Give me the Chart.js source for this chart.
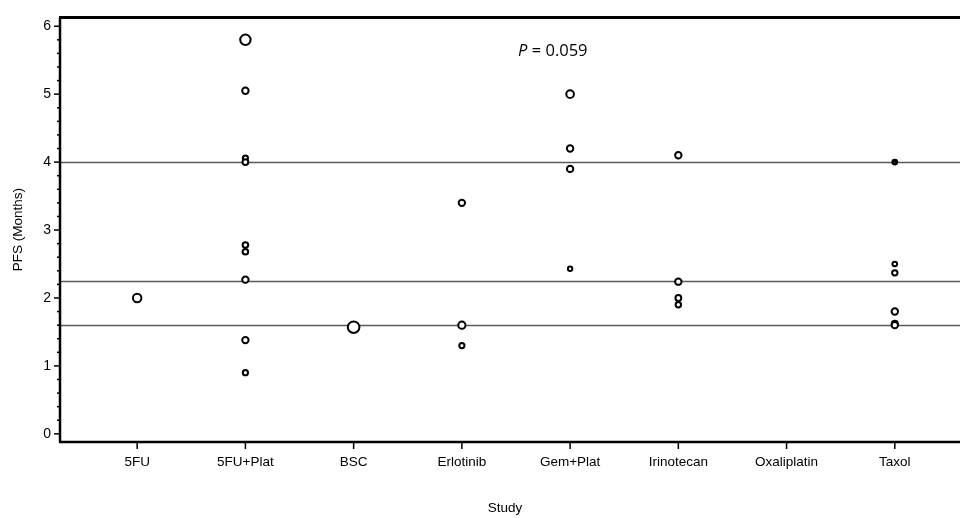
<!DOCTYPE html>
<html>
<head>
<meta charset="utf-8">
<script src="https://cdn.jsdelivr.net/npm/chart.js@4/dist/chart.umd.min.js"></script>
<style>
  html, body { margin: 0; padding: 0; background: #ffffff; }
  #wrap { width: 960px; height: 518px; position: relative; }
</style>
</head>
<body>
<div id="wrap"><canvas id="c" width="960" height="518"></canvas></div>
<script>
// ---- data ----
const categories = ['5FU', '5FU+Plat', 'BSC', 'Erlotinib', 'Gem+Plat', 'Irinotecan', 'Oxaliplatin', 'Taxol'];
const studyArm  = [0,   1,    1,    1,    1,    1,    1,    1,    1,    1,    2,    3,   3,   3,   4,   4,   4,   4,    5,   5,    5,   5,   7,   7,   7,    7,   7,    7];
const pfsMonths = [2.0, 5.8,  5.05, 4.06, 4.0,  2.78, 2.68, 2.27, 1.38, 0.9,  1.57, 3.4, 1.6, 1.3, 5.0, 4.2, 3.9, 2.43, 4.1, 2.24, 2.0, 1.9, 4.0, 2.5, 2.37, 1.8, 1.62, 1.6];
const studyWeight = [4.2, 5.2, 3.2, 2.6, 2.9, 2.8, 2.8, 3.2, 3.2, 2.6, 5.8, 3.2, 3.6, 2.6, 3.8, 3.2, 3.2, 2.2, 3.2, 3.2, 2.9, 2.7, 1.9, 2.3, 2.7, 3.2, 3.0, 3.2];
const refLines = [4.0, 2.25, 1.6];
const yTicks = [0, 1, 2, 3, 4, 5, 6];
const pLabel = '0.059';

const points = pfsMonths.map((v, i) => ({ x: studyArm[i], y: v, w: studyWeight[i] }));

const framePlugin = {
  id: 'frame',
  beforeDatasetsDraw(chart) {
    const { ctx, chartArea, scales } = chart;
    ctx.save();
    ctx.strokeStyle = '#5a5a5a';
    ctx.lineWidth = 1.5;
    refLines.forEach(v => {
      const y = Math.round(scales.y.getPixelForValue(v)) + 0.5;
      ctx.beginPath();
      ctx.moveTo(chartArea.left, y);
      ctx.lineTo(chart.width, y);
      ctx.stroke();
    });
    ctx.restore();
  },
  afterDraw(chart) {
    const { ctx, chartArea, scales } = chart;
    const L = chartArea.left, T = chartArea.top, B = chartArea.bottom;
    ctx.save();
    ctx.strokeStyle = '#000000';
    // frame
    ctx.lineWidth = 3;
    ctx.beginPath(); ctx.moveTo(L - 1, T); ctx.lineTo(chart.width, T); ctx.stroke();
    ctx.lineWidth = 2.5;
    ctx.beginPath(); ctx.moveTo(L, T); ctx.lineTo(L, B); ctx.stroke();
    ctx.beginPath(); ctx.moveTo(L - 1, B); ctx.lineTo(chart.width, B); ctx.stroke();
    // y ticks (major + minor)
    ctx.lineWidth = 1.5;
    for (let k = 0; k <= 30; k++) {
      const v = k * 0.2;
      const y = scales.y.getPixelForValue(v);
      const len = (k % 5 === 0) ? 6 : 3;
      ctx.beginPath(); ctx.moveTo(L - len, y); ctx.lineTo(L, y); ctx.stroke();
    }
    // x ticks
    categories.forEach((c, i) => {
      const x = scales.x.getPixelForValue(i);
      ctx.beginPath(); ctx.moveTo(x, B); ctx.lineTo(x, B + 7); ctx.stroke();
    });
    // P value annotation
    ctx.fillStyle = '#000000';
    ctx.textBaseline = 'middle';
    ctx.textAlign = 'left';
    const px = scales.x.getPixelForValue(4) - 52;
    const py = scales.y.getPixelForValue(5.63);
    ctx.font = 'italic 16.5px "Open Sans"';
    ctx.fillText('P', px, py);
    const wP = ctx.measureText('P').width;
    ctx.font = '16.5px "Open Sans"';
    ctx.fillText(' = ' + pLabel, px + wP, py);
    ctx.restore();
  }
};

new Chart(document.getElementById('c'), {
  type: 'scatter',
  data: {
    datasets: [{
      data: points,
      showLine: false,
      borderColor: '#000000',
      backgroundColor: '#ffffff',
      borderWidth: ctx => (ctx.raw && ctx.raw.w < 2) ? 3 : 2,
      pointRadius: ctx => ctx.raw ? ctx.raw.w : 3,
      pointHoverRadius: ctx => ctx.raw ? ctx.raw.w : 3,
      clip: false
    }]
  },
  options: {
    responsive: false,
    animation: false,
    events: [],
    layout: { padding: { top: 14, right: 10, left: 0, bottom: 0 } },
    plugins: { legend: { display: false }, tooltip: { enabled: false } },
    scales: {
      x: {
        type: 'linear',
        min: -0.713,
        max: 7.51,
        grid: { display: false, drawTicks: false },
        border: { display: false },
        afterBuildTicks: s => { s.ticks = categories.map((c, i) => ({ value: i })); },
        afterFit: s => { s.height = 76; },
        ticks: {
          autoSkip: false,
          maxRotation: 0,
          padding: 12,
          color: '#000000',
          font: { family: '"Liberation Sans", Arial', size: 13.5 },
          callback: v => categories[v]
        },
        title: {
          display: true,
          text: 'Study',
          color: '#000000',
          font: { family: '"Liberation Sans", Arial', size: 13.5 },
          padding: { top: 0, bottom: 2 }
        }
      },
      y: {
        min: -0.12,
        max: 6.13,
        grid: { display: false, drawTicks: false },
        border: { display: false },
        afterBuildTicks: s => { s.ticks = yTicks.map(v => ({ value: v })); },
        afterFit: s => { s.width = 60; },
        ticks: {
          padding: 9,
          color: '#000000',
          font: { family: '"Liberation Sans", Arial', size: 14 }
        },
        title: {
          display: true,
          text: 'PFS (Months)',
          color: '#000000',
          font: { family: '"Liberation Sans", Arial', size: 13.5 },
          padding: { top: 10, bottom: 0 }
        }
      }
    }
  },
  plugins: [framePlugin]
});
</script>
</body>
</html>
